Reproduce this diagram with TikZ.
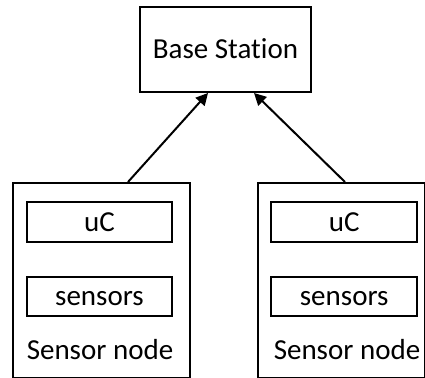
\documentclass[tikz,border=0pt]{standalone}
\usepackage{fontspec}
\setmainfont{Carlito}[RawFeature=-liga]
\usetikzlibrary{arrows.meta,positioning}

\begin{document}
\begin{tikzpicture}[x=1pt,y=-1pt,node distance=33pt,font=\fontsize{29pt}{35pt}\selectfont]
      \tikzstyle{box}=[rectangle,draw,line width=2pt,inner sep=0pt,text height=20pt,text depth=2pt]
      \tikzstyle{part}=[box,minimum width=145.6pt,minimum height=39.4pt]
      \tikzstyle{outer}=[rectangle,draw,line width=2pt,inner sep=0pt]
      \useasboundingbox (0,0) rectangle (425,377);
      \clip (0,0) rectangle (425,377);
      \node[box,minimum width=171pt,minimum height=85pt] (bs) at (225.5,49.5) {Base Station};
      % left sensor node
      \node[outer,minimum width=177pt,minimum height=194.5pt] (sl) at (101.5,280.25) {};
      \node[part] (ucl) at (99.5,222) {uC};
      \node[part,below=of ucl] (snl) {sensors};
      \node[anchor=base] (lbl) at (100,359) {Sensor node};
      % right sensor node
      \node[outer,minimum width=167pt,minimum height=194.5pt] (sr) at (341,280.25) {};
      \node[part] (ucr) at (344.2,222) {uC};
      \node[part,below=of ucr] (snr) {sensors};
      \node[anchor=base] (lbr) at (347,359) {Sensor node};
      \draw[line width=2pt,-{Triangle[length=12pt,width=12pt]}] ([xshift=26.5pt]sl.north) -- ([xshift=-17.5pt]bs.south);
      \draw[line width=2pt,-{Triangle[length=12pt,width=12pt]}] ([xshift=4pt]sr.north) -- ([xshift=28.5pt]bs.south);
    \end{tikzpicture}
\end{document}
